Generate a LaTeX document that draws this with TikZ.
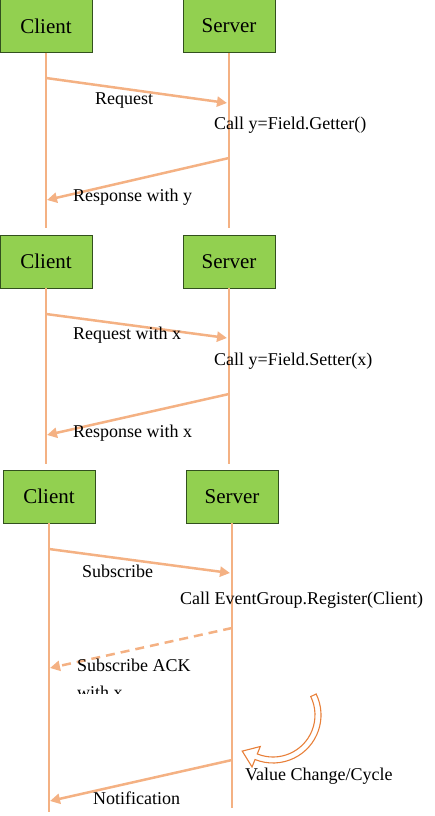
\documentclass[tikz,border=0pt]{standalone}
\usepackage{fontspec}
\setmainfont{Liberation Serif}
\usepackage{xcolor}
\usepackage{tikz}
\usetikzlibrary{calc,arrows.meta}
\definecolor{BoxGreen}{RGB}{146,208,80}
\definecolor{BoxBorder}{RGB}{50,80,30}
\definecolor{LineOrange}{RGB}{244,177,131}
\definecolor{CurveOrange}{RGB}{232,128,58}
\tikzset{
    partybox/.style={rectangle, draw=BoxBorder, fill=BoxGreen, line width=0.8pt, minimum width=92pt, minimum height=53pt, inner sep=0pt, font=\fontsize{21}{24}\selectfont},
    lifeline/.style={draw=LineOrange, line width=2pt},
    msglabel/.style={anchor=base west, inner sep=0pt, font=\fontsize{18}{21}\selectfont}
}

\begin{document}
\begin{tikzpicture}[
        x=1pt, y=1pt, yscale=-1,
        % --- STYLE MESSAGE ---
        msg/.style={
            draw=LineOrange,
            line width=2.5pt,
            -{Triangle[length=10pt, width=10pt]}
        },
        % Style tra loi co net dut
        msgdashed/.style={
            msg,
            dash pattern=on 9pt off 6pt
        },
        % Style mui ten cong rong
        curvearrow/.style={
            draw=CurveOrange,
            fill=white,
            line width=1.1pt,
            line join=miter
        }
    ]
        \useasboundingbox (0,0) rectangle (435,816);

        % --- HOP CLIENT / SERVER ---
        \node[partybox] (c1) at (46,26) {Client};
        \node[partybox] (s1) at (229,26) {Server};
        \node[partybox] (c2) at (46,261.5) {Client};
        \node[partybox] (s2) at (229,261.5) {Server};
        \node[partybox] (c3) at (49,496.5) {Client};
        \node[partybox] (s3) at (232,496.5) {Server};

        % --- DUONG DOC ---
        \coordinate (c1end) at (46,228);
        \coordinate (s1end) at (229,228);
        \coordinate (c2end) at (46,464);
        \coordinate (s2end) at (229,464);
        \coordinate (c3end) at (49,812);
        \coordinate (s3end) at (232,808);
        \foreach \party in {c1, s1, c2, s2, c3, s3} {
            \draw[lifeline] (\party) -- (\party end);
        }

        % --- DIEM TREN DUONG DOC ---
        \coordinate (c1a) at (46,78);
        \coordinate (s1a) at (227,103);
        \coordinate (s1b) at (229,158);
        \coordinate (c1b) at (47,200);
        \coordinate (c2a) at (46,314);
        \coordinate (s2a) at (227,338);
        \coordinate (s2b) at (229,394);
        \coordinate (c2b) at (47,435);
        \coordinate (c3a) at (49,549);
        \coordinate (s3a) at (230,573);
        \coordinate (s3b) at (232,628);
        \coordinate (c3b) at (50,668);
        \coordinate (s3c) at (232,760);
        \coordinate (c3c) at (50,801);

        % --- GETTER ---
        \draw[msg] (c1a) -- (s1a);
        \draw[msg] (s1b) -- (c1b);
        \node[msglabel] (req1) at (95,104) {Request};
        \node[msglabel] (call1) at (214,129) {Call y=Field.Getter()};
        \node[msglabel] (resp1) at (73,201) {Response with y};

        % --- SETTER ---
        \draw[msg] (c2a) -- (s2a);
        \draw[msg] (s2b) -- (c2b);
        \node[msglabel] (req2) at (73,339) {Request with x};
        \node[msglabel] (call2) at (214,365) {Call y=Field.Setter(x)};
        \node[msglabel] (resp2) at (73,437) {Response with x};

        % --- EVENT ---
        \draw[msg] (c3a) -- (s3a);
        \draw[msgdashed] (s3b) -- (c3b);
        \draw[msg] (s3c) -- (c3c);
        \node[msglabel] (sub) at (82,577) {Subscribe};
        \node[msglabel] (call3) at (180,604) {Call EventGroup.Register(Client)};
        \node[msglabel] (ack) at (77,671) {Subscribe ACK};
        \begin{scope}
            \clip (60,600) rectangle (220,693);
            \node[msglabel] (ackx) at (77,698) {with x};
        \end{scope}
        \node[msglabel] (change) at (245,780) {Value Change/Cycle};
        \node[msglabel] (notif) at (93,804) {Notification};

        % --- MUI TEN CONG ---
        \coordinate (vc) at (273,715);
        \draw[curvearrow] (vc) ++(-26:48) arc[start angle=-26, end angle=112, radius=48]
            -- ($(vc)+(112:56)$) -- ($(vc)+(112:45)+(202:15)$) -- ($(vc)+(112:34)$)
            -- ($(vc)+(112:42)$) arc[start angle=112, end angle=-26, radius=42] -- cycle;

    \end{tikzpicture}
\end{document}
